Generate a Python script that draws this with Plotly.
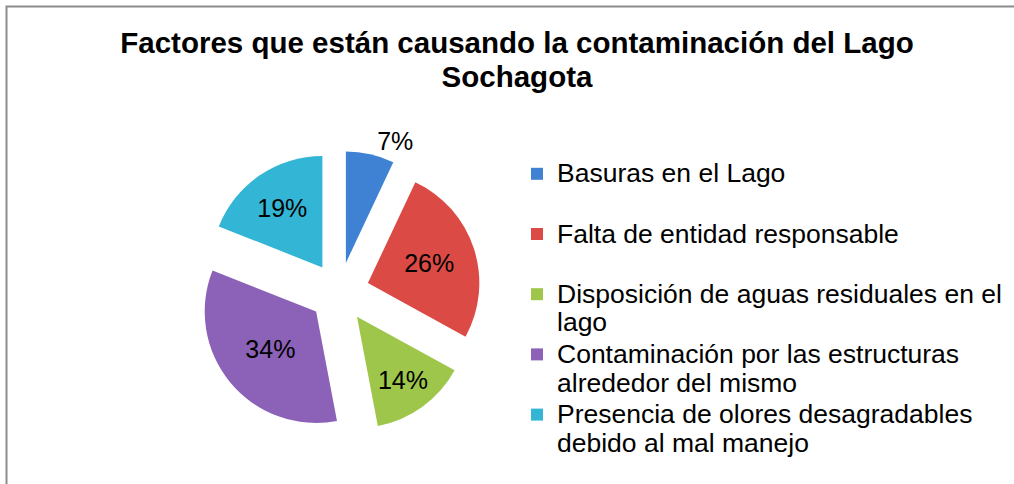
import plotly.graph_objects as go

# ---- data ----
title_lines = ["Factores que están causando la contaminación del Lago", "Sochagota"]
category_lines = [
    ["Basuras en el Lago"],
    ["Falta de entidad responsable"],
    ["Disposición de aguas residuales en el", "lago"],
    ["Contaminación por las estructuras", "alrededor del mismo"],
    ["Presencia de olores desagradables", "debido al mal manejo"],
]
values = [7, 26, 14, 34, 19]
colors = ["#3F82D3", "#DB4A45", "#9DC64A", "#8B62B7", "#33B6D5"]
text_positions = ["outside", "inside", "inside", "inside", "inside"]

W, H = 1014, 484


def sized_lines(lines, size, pad_to=1):
    spans = [f'<span style="font-size:{size}px">{t}</span>' for t in lines]
    while len(spans) < pad_to:
        spans.append(" ")
    return "<br>".join(spans)


labels = [sized_lines(l, 26.5, pad_to=2) for l in category_lines]

fig = go.Figure(
    go.Pie(
        labels=labels,
        values=values,
        sort=False,
        direction="clockwise",
        rotation=0,
        pull=[0.27] * len(values),
        marker=dict(colors=colors, line=dict(width=0)),
        textinfo="percent",
        textposition=text_positions,
        insidetextorientation="horizontal",
        textfont=dict(family="Arial, Liberation Sans", size=25, color="black"),
        domain=dict(x=[197.8 / W, 480.8 / W], y=[50.2 / H, 333.2 / H]),
        hoverinfo="label+percent",
    )
)

fig.update_layout(
    width=W,
    height=H,
    margin=dict(l=0, r=0, t=0, b=0, autoexpand=False),
    paper_bgcolor="white",
    plot_bgcolor="white",
    title=dict(
        text=sized_lines(title_lines, 29.5),
        font=dict(family="Arial, Liberation Sans", size=26, color="black", weight="bold"),
        x=517 / W,
        xanchor="center",
        xref="container",
        y=1 - 53 / H,
        yanchor="top",
        yref="container",
    ),
    legend=dict(
        x=517 / W,
        xanchor="left",
        y=1 - 153 / H,
        yanchor="top",
        font=dict(family="Arial, Liberation Sans", size=22, color="black"),
        valign="top",
        bgcolor="rgba(0,0,0,0)",
    ),
    shapes=[
        dict(
            type="rect",
            xref="paper",
            yref="paper",
            x0=6.5 / W,
            x1=1.05,
            y0=-0.05,
            y1=1 - 6.5 / H,
            line=dict(color="#8C8C8C", width=2),
            fillcolor="rgba(0,0,0,0)",
        )
    ],
)

fig.write_html(
    "out.html",
    config={"displayModeBar": False},
    post_script="document.body.style.margin='0';document.body.style.overflow='hidden';",
)
